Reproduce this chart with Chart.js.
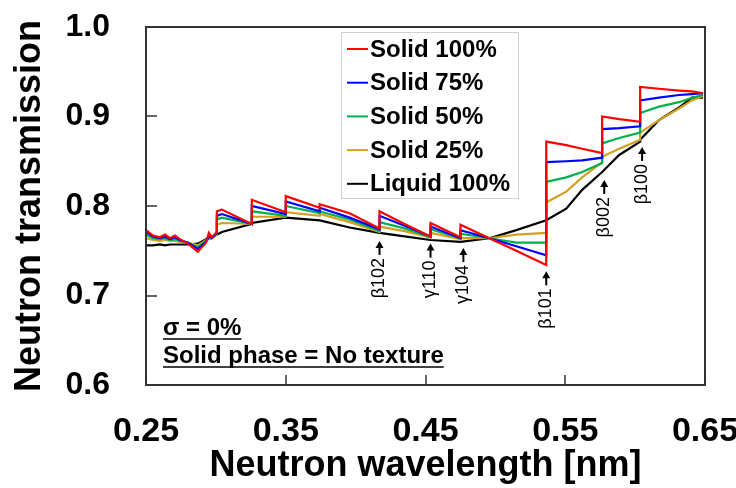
<!DOCTYPE html>
<html>
<head>
<meta charset="utf-8">
<script src="https://cdn.jsdelivr.net/npm/chart.js@4.4.1/dist/chart.umd.min.js"></script>
<style>
  html, body { margin: 0; padding: 0; background: #fff; }
</style>
</head>
<body>
<canvas id="chart" width="736" height="488"></canvas>
<script>
// wavelength knots [nm]; repeated values mark the Bragg edges (vertical jumps)
const wavelength = [
  0.2500, 0.2550, 0.2600, 0.2636, 0.2671, 0.2707, 0.2743, 0.2800, 0.2871, 0.2929,
  0.2950, 0.2971, 0.3007, 0.3007, 0.3043, 0.3257, 0.3257, 0.3500, 0.3500, 0.3743,
  0.3743, 0.3957, 0.4171, 0.4171, 0.4350, 0.4536, 0.4536, 0.4750, 0.4750, 0.4957,
  0.5150, 0.5364, 0.5364, 0.5507, 0.5621, 0.5764, 0.5764, 0.5886, 0.6036, 0.6036,
  0.6171, 0.6314, 0.6407, 0.6486
];
const solid100 = [
  0.773, 0.767, 0.765, 0.768, 0.764, 0.767, 0.763, 0.758, 0.749, 0.759,
  0.770, 0.765, 0.771, 0.794, 0.796, 0.780, 0.807, 0.793, 0.811, 0.798,
  0.802, 0.792, 0.775, 0.794, 0.780, 0.766, 0.781, 0.765, 0.779, 0.764,
  0.750, 0.734, 0.872, 0.868, 0.864, 0.859, 0.900, 0.897, 0.894, 0.933,
  0.931, 0.929, 0.928, 0.926
];
const solid75 = [
  0.771, 0.766, 0.764, 0.766, 0.763, 0.765, 0.762, 0.759, 0.752, 0.760,
  0.766, 0.764, 0.770, 0.789, 0.791, 0.780, 0.800, 0.791, 0.805, 0.794,
  0.798, 0.787, 0.774, 0.789, 0.778, 0.766, 0.777, 0.764, 0.773, 0.764,
  0.755, 0.745, 0.849, 0.850, 0.851, 0.854, 0.886, 0.887, 0.889, 0.918,
  0.921, 0.924, 0.925, 0.926
];
const solid50 = [
  0.768, 0.764, 0.763, 0.764, 0.762, 0.763, 0.761, 0.759, 0.754, 0.761,
  0.764, 0.764, 0.769, 0.785, 0.787, 0.780, 0.794, 0.789, 0.800, 0.792,
  0.794, 0.785, 0.772, 0.782, 0.775, 0.765, 0.774, 0.764, 0.769, 0.764,
  0.759, 0.759, 0.827, 0.832, 0.838, 0.848, 0.870, 0.876, 0.882, 0.904,
  0.911, 0.916, 0.921, 0.924
];
const solid25 = [
  0.764, 0.762, 0.761, 0.762, 0.761, 0.761, 0.760, 0.759, 0.756, 0.762,
  0.763, 0.764, 0.768, 0.779, 0.781, 0.780, 0.788, 0.788, 0.793, 0.789,
  0.791, 0.782, 0.771, 0.777, 0.772, 0.765, 0.770, 0.763, 0.764, 0.764,
  0.768, 0.770, 0.804, 0.816, 0.832, 0.849, 0.855, 0.864, 0.874, 0.882,
  0.896, 0.909, 0.918, 0.923
];
const liquid100 = [
  0.756, 0.756, 0.757, 0.756, 0.757, 0.757, 0.757, 0.757, 0.758, 0.763,
  0.765, 0.766, 0.768, 0.768, 0.771, 0.780, 0.781, 0.787, 0.787, 0.784,
  0.784, 0.776, 0.770, 0.770, 0.766, 0.762, 0.762, 0.760, 0.760, 0.764,
  0.773, 0.784, 0.784, 0.797, 0.818, 0.838, 0.838, 0.857, 0.872, 0.874,
  0.896, 0.910, 0.921, 0.921
];
const seriesNames = ['Solid 100%', 'Solid 75%', 'Solid 50%', 'Solid 25%', 'Liquid 100%'];
const seriesColors = ['#ff0000', '#0000ff', '#00b050', '#d4a020', '#000000'];

const xTicks = [0.25, 0.35, 0.45, 0.55, 0.65];
const yTicks = [0.6, 0.7, 0.8, 0.9, 1.0];

// Bragg edge markers
const peakLabels = ['β102', 'γ110', 'γ104', 'β101', 'β002', 'β100'];
const peakWavelength = [0.4171, 0.4536, 0.4771, 0.5364, 0.5779, 0.6050];
const peakArrowTip = [0.761, 0.758, 0.753, 0.727, 0.829, 0.866];

const notes = ['σ = 0%', 'Solid phase = No texture'];

const FONT = "'Liberation Sans', Arial, sans-serif";

const allSeries = [solid100, solid75, solid50, solid25, liquid100];

const framePlugin = {
  id: 'frame',
  afterDatasetsDraw(chart) {
    const { ctx, chartArea: a, scales: { x, y } } = chart;
    ctx.save();
    ctx.strokeStyle = '#333';
    ctx.lineWidth = 2;
    ctx.strokeRect(a.left, a.top, a.right - a.left, a.bottom - a.top);
    ctx.beginPath();
    yTicks.forEach(v => {
      const py = Math.round(y.getPixelForValue(v));
      ctx.moveTo(a.left, py);
      ctx.lineTo(a.left + 11, py);
    });
    xTicks.forEach(v => {
      const px = Math.round(x.getPixelForValue(v));
      ctx.moveTo(px, a.bottom);
      ctx.lineTo(px, a.bottom - 10);
    });
    ctx.lineWidth = 1.5;
    ctx.stroke();

    // legend box
    const lx = 341, ly = 32, lw = 177, lh = 166;
    ctx.fillStyle = '#fff';
    ctx.fillRect(lx, ly, lw, lh);
    ctx.strokeStyle = '#cfcfcf';
    ctx.lineWidth = 1;
    ctx.strokeRect(lx + 0.5, ly + 0.5, lw, lh);
    ctx.font = 'bold 24px ' + FONT;
    ctx.textBaseline = 'middle';
    ctx.textAlign = 'left';
    chart.data.datasets.forEach((ds, i) => {
      const ry = ly + 17 + i * 33.7;
      ctx.strokeStyle = ds.borderColor;
      ctx.lineWidth = 2;
      ctx.beginPath();
      ctx.moveTo(lx + 6, ry);
      ctx.lineTo(lx + 27, ry);
      ctx.stroke();
      ctx.fillStyle = '#000';
      ctx.fillText(ds.label, lx + 29, ry + 1);
    });

    // notes, underlined
    ctx.font = 'bold 24px ' + FONT;
    ctx.textBaseline = 'alphabetic';
    ctx.fillStyle = '#000';
    ctx.strokeStyle = '#000';
    ctx.lineWidth = 1.5;
    notes.forEach((t, i) => {
      const bx = 163, by = 335 + i * 28;
      ctx.fillText(t, bx, by);
      const w = ctx.measureText(t).width;
      ctx.beginPath();
      ctx.moveTo(bx, by + 4);
      ctx.lineTo(bx + w, by + 4);
      ctx.stroke();
    });

    // arrows and rotated peak labels
    ctx.font = '18px ' + FONT;
    peakLabels.forEach((t, i) => {
      const px = x.getPixelForValue(peakWavelength[i]);
      const tip = y.getPixelForValue(peakArrowTip[i]);
      ctx.strokeStyle = '#000';
      ctx.fillStyle = '#000';
      ctx.lineWidth = 2;
      ctx.beginPath();
      ctx.moveTo(px, tip + 4);
      ctx.lineTo(px, tip + 14);
      ctx.stroke();
      ctx.beginPath();
      ctx.moveTo(px, tip);
      ctx.lineTo(px - 4, tip + 7);
      ctx.lineTo(px + 4, tip + 7);
      ctx.closePath();
      ctx.fill();
      ctx.save();
      ctx.translate(px, tip + 17);
      ctx.rotate(-Math.PI / 2);
      ctx.textAlign = 'right';
      ctx.textBaseline = 'middle';
      ctx.fillText(t, 0, 0);
      ctx.restore();
    });
    ctx.restore();
  }
};

new Chart(document.getElementById('chart'), {
  type: 'line',
  data: {
    datasets: allSeries.map((vals, i) => ({
      label: seriesNames[i],
      data: vals.map((v, k) => ({ x: wavelength[k], y: v })),
      borderColor: seriesColors[i],
      borderWidth: 2.2,
      pointRadius: 0,
      tension: 0,
      fill: false
    }))
  },
  options: {
    responsive: false,
    animation: false,
    events: [],
    layout: { padding: { top: 27, right: 31, left: 0, bottom: 0 } },
    plugins: {
      legend: { display: false },
      tooltip: { enabled: false }
    },
    scales: {
      x: {
        type: 'linear',
        min: 0.25,
        max: 0.65,
        grid: { display: false, drawTicks: false },
        border: { display: false },
        afterBuildTicks: s => { s.ticks = xTicks.map(v => ({ value: v })); },
        afterFit: s => { s.height = 103; s.paddingLeft = 0; s.paddingRight = 0; },
        ticks: {
          padding: 26,
          color: '#000',
          maxRotation: 0,
          autoSkip: false,
          font: { family: FONT, size: 34, weight: 'bold' },
          callback: v => v.toFixed(2)
        },
        title: {
          display: true,
          text: 'Neutron wavelength [nm]',
          color: '#000',
          font: { family: FONT, size: 36, weight: 'bold' },
          padding: { top: 0, bottom: 0 }
        }
      },
      y: {
        min: 0.6,
        max: 1.0,
        grid: { display: false, drawTicks: false },
        border: { display: false },
        afterBuildTicks: s => { s.ticks = yTicks.map(v => ({ value: v })); },
        afterFit: s => { s.width = 146; s.paddingTop = 0; s.paddingBottom = 0; },
        ticks: {
          padding: 36,
          color: '#000',
          font: { family: FONT, size: 32, weight: 'bold' },
          callback: v => v.toFixed(1)
        },
        title: {
          display: true,
          text: 'Neutron transmission',
          color: '#000',
          font: { family: FONT, size: 36, weight: 'bold' },
          padding: { top: 8, bottom: 0 }
        }
      }
    }
  },
  plugins: [framePlugin]
});
</script>
</body>
</html>
